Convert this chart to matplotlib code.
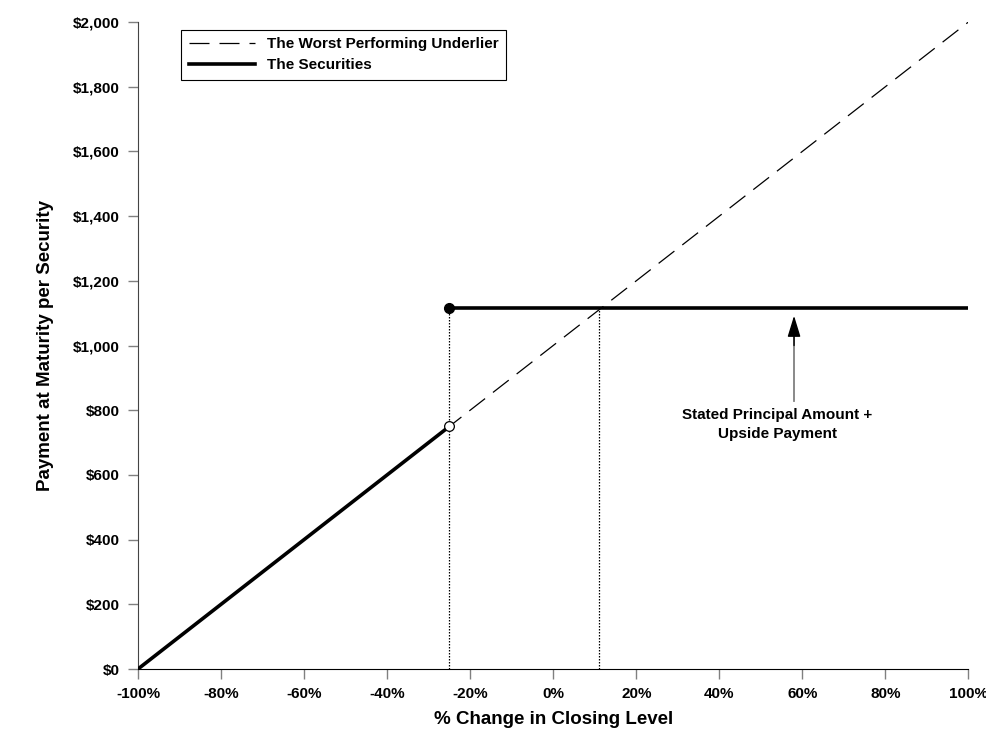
import matplotlib.pyplot as plt
import numpy as np

# данні
pct_change = [-100, 100]
underlier = [0, 2000]
sec_low_x = [-100, -25]
sec_low_y = [0, 750]
sec_high_x = [-25, 100]
sec_high_y = [1117, 1117]
barrier = -25
crossing = 11
x_ticks = list(range(-100, 101, 20))
y_ticks = list(range(0, 2001, 200))

plt.rcParams['font.family'] = ['Liberation Sans', 'DejaVu Sans']
plt.rcParams['font.weight'] = 'bold'

fig = plt.figure(figsize=(9.87, 7.46), dpi=100)
ax = fig.add_axes([0.1398, 0.1032, 0.8414, 0.8673])

ax.plot(pct_change, underlier, color='black', lw=0.9, dashes=(16, 8),
        label='The Worst Performing Underlier', zorder=2)
ax.plot(sec_low_x, sec_low_y, color='black', lw=2.6, label='The Securities', zorder=3)
ax.plot(sec_high_x, sec_high_y, color='black', lw=2.6, zorder=3)

# пунктирні вертикалі
ax.plot([barrier, barrier], [0, sec_high_y[0]], color='black', lw=0.9, ls=(0, (1.2, 1.2)), zorder=1)
ax.plot([crossing, crossing], [0, sec_high_y[0]], color='black', lw=0.9, ls=(0, (1.2, 1.2)), zorder=1)

ax.plot(barrier, sec_high_y[0], 'o', color='black', ms=7, zorder=4)
ax.plot(barrier, sec_low_y[-1], 'o', mfc='white', mec='black', mew=0.9, ms=7, zorder=4)

ax.annotate('', xy=(58, 1092), xytext=(58, 1000),
            arrowprops=dict(arrowstyle='-|>,head_width=0.4,head_length=1.3',
                            color='black', lw=1, shrinkA=0, shrinkB=0))
ax.plot([58, 58], [830, 1030], color='gray', lw=1.3, zorder=2)
ax.text(54, 757, 'Stated Principal Amount +\nUpside Payment', ha='center', va='center',
        fontsize=11, fontweight='bold', linespacing=1.45)

ax.set_xlim(-100, 100)
ax.set_ylim(0, 2000)
ax.set_xticks(x_ticks)
ax.set_xticklabels([f'{t}%' for t in x_ticks])
ax.set_yticks(y_ticks)
ax.set_yticklabels([f'${t:,}' for t in y_ticks])
ax.tick_params(axis='both', direction='out', length=7, width=1, color='gray',
               labelsize=11, pad=6)
for lab in ax.get_xticklabels() + ax.get_yticklabels():
    lab.set_fontweight('bold')

for s in ['top', 'right']:
    ax.spines[s].set_visible(False)
ax.spines['left'].set_color('#444444')
ax.spines['bottom'].set_color('black')
ax.margins(0)

ax.set_xlabel('% Change in Closing Level', fontsize=13.5, fontweight='bold', labelpad=7)
ax.set_ylabel('Payment at Maturity per Security', fontsize=13.5, fontweight='bold', labelpad=14)

leg = ax.legend(loc='upper left', bbox_to_anchor=(0.043, 1.0), fontsize=11,
                frameon=True, fancybox=False, edgecolor='black', framealpha=1,
                handlelength=4.3, borderpad=0.5, labelspacing=0.45)
leg.get_frame().set_linewidth(0.8)
for t in leg.get_texts():
    t.set_fontweight('bold')

fig.savefig('out.png', dpi=100)
